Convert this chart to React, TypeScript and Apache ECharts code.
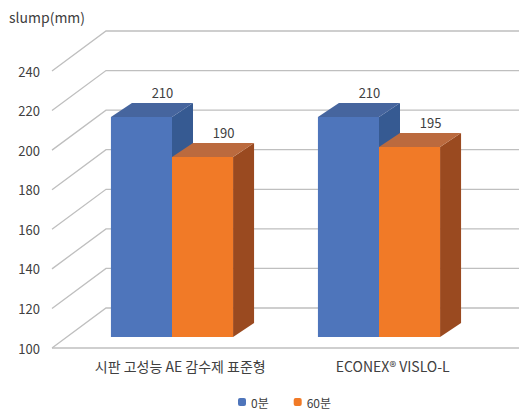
import React, { useEffect, useRef } from "react";
import * as echarts from "echarts";

const categories = ["시판 고성능 AE 감수제 표준형", "ECONEX® VISLO-L"];
const seriesNames = ["0분", "60분"];
const values0 = [210, 210];
const values60 = [190, 195];
const yTicks = [100, 120, 140, 160, 180, 200, 220, 240];

const FONT = "'Noto Sans CJK KR', 'Noto Sans', sans-serif";
const TEXT = "#404040";
const GRIDC = "#BFBFBF";

const BLUE = { front: "#4E75BB", top: "#46659E", side: "#365A92" };
const ORANGE = { front: "#F17A27", top: "#BB6A3E", side: "#9A4A20" };

const WALL_DX = 54;
const WALL_DY = -40;
const BAR_DX = 21;
const BAR_DY = -14;

function makeBarRender(side: number, colors: { front: string; top: string; side: string }) {
  return (params: any, api: any) => {
    const ci = api.value(0);
    const v = api.value(1);
    const top = api.coord([ci, v]);
    const bot = api.coord([ci, 100]);
    const w = api.size([1, 0])[0] * 0.295;
    const x0 = side === 0 ? top[0] - w : top[0];
    const x1 = x0 + w;
    const yT = top[1];
    const yB = bot[1];
    return {
      type: "group",
      children: [
        {
          type: "polygon",
          shape: { points: [[x1, yT], [x1 + BAR_DX, yT + BAR_DY], [x1 + BAR_DX, yB + BAR_DY], [x1, yB]] },
          style: { fill: colors.side },
        },
        {
          type: "polygon",
          shape: { points: [[x0, yT], [x1, yT], [x1 + BAR_DX, yT + BAR_DY], [x0 + BAR_DX, yT + BAR_DY]] },
          style: { fill: colors.top },
        },
        {
          type: "rect",
          shape: { x: x0, y: yT, width: w, height: yB - yT },
          style: { fill: colors.front },
        },
        {
          type: "text",
          x: x0 + BAR_DX + w / 2,
          y: yT + BAR_DY - 11,
          style: {
            text: String(v),
            fill: TEXT,
            font: `13px ${FONT}`,
            textAlign: "center",
            textVerticalAlign: "middle",
          },
        },
      ],
    };
  };
}

export default function App() {
  const ref = useRef<HTMLDivElement>(null);
  useEffect(() => {
    if (!ref.current) return;
    const chart = echarts.init(ref.current, undefined, { renderer: "svg" });
    const option: any = {
      animation: false,
      backgroundColor: "#ffffff",
      title: {
        text: "slump(mm)",
        left: 4,
        top: 5,
        textStyle: { fontFamily: FONT, fontSize: 14, fontWeight: "normal", color: TEXT },
      },
      legend: {
        data: seriesNames,
        left: 233,
        top: 391,
        icon: "roundRect",
        itemWidth: 8,
        itemHeight: 8,
        itemGap: 25,
        textStyle: { fontFamily: FONT, fontSize: 12, color: TEXT },
      },
      grid: [
        { left: 52, top: 71, width: 467, height: 277 },
        { left: 68.5, top: 57, width: 414, height: 280 },
        { left: 74, top: 57, width: 425, height: 291 },
      ],
      xAxis: [
        { gridIndex: 0, type: "value", min: 0, max: 1, show: false },
        { gridIndex: 1, type: "category", data: categories, show: false },
        {
          gridIndex: 2,
          type: "category",
          data: categories,
          axisLine: { show: false },
          axisTick: { show: false },
          axisLabel: { fontFamily: FONT, fontSize: 14, color: TEXT, margin: 11, interval: 0 },
        },
      ],
      yAxis: [
        {
          gridIndex: 0,
          type: "value",
          min: 100,
          max: 240,
          interval: 20,
          axisLine: { show: false },
          axisTick: { show: false },
          splitLine: { show: false },
          axisLabel: { fontFamily: FONT, fontSize: 13, color: TEXT, margin: 12 },
        },
        { gridIndex: 1, type: "value", min: 100, max: 240, show: false },
        { gridIndex: 2, type: "value", min: 100, max: 240, show: false },
      ],
      series: [
        {
          type: "custom",
          name: "wall",
          xAxisIndex: 0,
          yAxisIndex: 0,
          silent: true,
          z: 1,
          data: yTicks.map((v) => [0, v]),
          renderItem: (params: any, api: any) => {
            const v = api.value(1);
            const p = api.coord([0, v]);
            const cs = params.coordSys;
            const children: any[] = [
              {
                type: "polyline",
                shape: {
                  points: [
                    [cs.x, p[1]],
                    [cs.x + WALL_DX, p[1] + WALL_DY],
                    [cs.x + cs.width, p[1] + WALL_DY],
                  ],
                },
                style: { stroke: GRIDC, lineWidth: 1.3, fill: "none" },
              },
            ];
            if (v === 100) {
              children.push({
                type: "line",
                shape: { x1: cs.x, y1: p[1], x2: cs.x + cs.width, y2: p[1] },
                style: { stroke: GRIDC, lineWidth: 1.3 },
              });
            }
            return { type: "group", children };
          },
        },
        {
          type: "custom",
          name: seriesNames[0],
          xAxisIndex: 1,
          yAxisIndex: 1,
          z: 2,
          itemStyle: { color: BLUE.front },
          data: values0.map((v, i) => [i, v]),
          renderItem: makeBarRender(0, BLUE),
        },
        {
          type: "custom",
          name: seriesNames[1],
          xAxisIndex: 1,
          yAxisIndex: 1,
          z: 3,
          itemStyle: { color: ORANGE.front },
          data: values60.map((v, i) => [i, v]),
          renderItem: makeBarRender(1, ORANGE),
        },
      ],
    };
    chart.setOption(option);
    return () => chart.dispose();
  }, []);
  return (
    <div
      ref={ref}
      style={{ position: "fixed", left: 0, top: 0, width: 519, height: 410 }}
    />
  );
}
